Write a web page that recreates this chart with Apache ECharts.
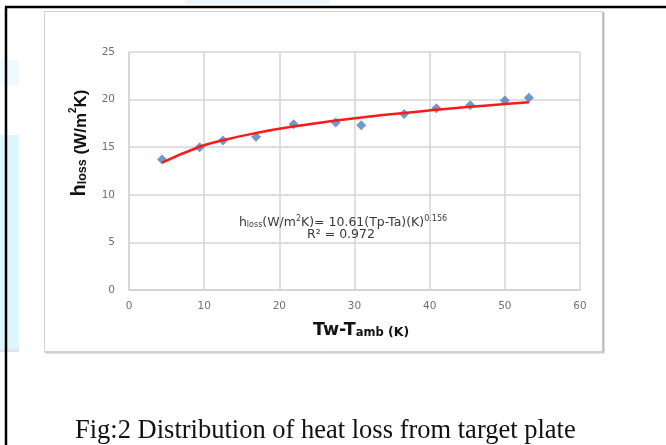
<!DOCTYPE html>
<html>
<head>
<meta charset="utf-8">
<script src="https://cdn.jsdelivr.net/npm/echarts@6/dist/echarts.min.js"></script>
<style>
  html, body { margin: 0; padding: 0; background: #fff; }
  #chart { width: 666px; height: 445px; }
</style>
</head>
<body>
<div id="chart"></div>
<script>
// Temperature difference Tw - Tamb (K) and measured heat-loss coefficient (W/m²K)
const deltaT = [4.4, 9.4, 12.5, 16.9, 21.9, 27.5, 30.9, 36.6, 40.9, 45.4, 50.0, 53.2];
const hLoss  = [13.7, 15.0, 15.7, 16.1, 17.4, 17.6, 17.3, 18.5, 19.1, 19.4, 19.9, 20.2];

// Power-law fit as given in the annotation: h = 10.61 * (Tp - Ta)^0.156
const FIT_A = 10.61;
const FIT_B = 0.156;
const FIT_R2 = '0.972';

// Axis ticks
const xTicks = [0, 10, 20, 30, 40, 50, 60];
const yTicks = [0, 5, 10, 15, 20, 25];

const caption = 'Fig:2 Distribution of heat loss from target plate';

const points = deltaT.map((x, i) => [x, hLoss[i]]);
const fitLine = deltaT.map(x => [x, FIT_A * Math.pow(x, FIT_B)]);

const chart = echarts.init(document.getElementById('chart'), null, { renderer: 'canvas' });

const tickFont = { fontFamily: 'DejaVu Sans', fontSize: 10.5, color: '#707070' };
const gridColor = '#d4d4d4';

chart.setOption({
  animation: false,
  backgroundColor: '#ffffff',
  grid: { left: 129, top: 52, right: 86, bottom: 155, containLabel: false },
  xAxis: {
    type: 'value',
    min: xTicks[0], max: xTicks[xTicks.length - 1], interval: 10,
    axisLine: { show: true, lineStyle: { color: gridColor, width: 1.5 } },
    axisTick: { show: false },
    splitLine: { show: true, lineStyle: { color: gridColor, width: 1.5 } },
    axisLabel: Object.assign({ margin: 11 }, tickFont)
  },
  yAxis: {
    type: 'value',
    min: yTicks[0], max: yTicks[yTicks.length - 1], interval: 5,
    axisLine: { show: true, lineStyle: { color: gridColor, width: 1.5 } },
    axisTick: { show: false },
    splitLine: { show: true, lineStyle: { color: gridColor, width: 1.5 } },
    axisLabel: Object.assign({ margin: 14 }, tickFont)
  },
  series: [
    {
      name: 'measured',
      type: 'scatter',
      data: points,
      symbol: 'diamond',
      symbolSize: [10, 10],
      itemStyle: { color: '#4a7fc0' },
      z: 3
    },
    {
      name: 'fit',
      type: 'line',
      data: fitLine,
      smooth: true,
      showSymbol: false,
      lineStyle: { color: '#ff1a1a', width: 2.5 },
      z: 4
    }
  ],
  graphic: [
    // page decorations behind the chart panel
    { type: 'rect', z: -10, shape: { x: 0, y: 135, width: 19, height: 216 }, style: { fill: '#ddf5fc' } },
    { type: 'rect', z: -10, shape: { x: 0, y: 60, width: 19, height: 25 }, style: { fill: '#eefafd' } },
    { type: 'rect', z: -10, shape: { x: 0, y: 349, width: 19, height: 3 }, style: { fill: '#e4e4ec' } },
    { type: 'rect', z: -10, shape: { x: 185, y: 0, width: 145, height: 4 }, style: { fill: '#eaf6fd' } },
    // black page frame (top and left)
    { type: 'line', z: 10, shape: { x1: 5, y1: 7, x2: 666, y2: 7 }, style: { stroke: '#000', lineWidth: 2.5 } },
    { type: 'line', z: 10, shape: { x1: 6, y1: 7, x2: 6, y2: 445 }, style: { stroke: '#000', lineWidth: 2.5 } },
    // chart panel border with slight shadow
    { type: 'rect', z: -5, shape: { x: 44.5, y: 11.5, width: 558, height: 340 }, style: { fill: 'none', stroke: '#d2d2d2', lineWidth: 1 } },
    { type: 'line', z: -5, shape: { x1: 603.5, y1: 12, x2: 603.5, y2: 353 }, style: { stroke: '#bdbdbd', lineWidth: 2 } },
    { type: 'line', z: -5, shape: { x1: 45, y1: 352.5, x2: 604, y2: 352.5 }, style: { stroke: '#cfcfcf', lineWidth: 2 } },
    // y-axis title
    {
      type: 'text', z: 10, x: 79, y: 143, rotation: Math.PI / 2,
      style: {
        text: '{h|h}{s|loss}{t| (W/m}{p|2}{t|K)}',
        align: 'center', verticalAlign: 'middle',
        rich: {
          h: { fontFamily: 'Liberation Sans', fontWeight: 'bold', fontSize: 20, fill: '#111', verticalAlign: 'bottom', lineHeight: 21 },
          s: { fontFamily: 'Liberation Sans', fontWeight: 'bold', fontSize: 12.5, fill: '#111', verticalAlign: 'bottom', lineHeight: 16, padding: [7, 0, 0, 0] },
          t: { fontFamily: 'Liberation Sans', fontWeight: 'bold', fontSize: 17, fill: '#111', verticalAlign: 'bottom', lineHeight: 21 },
          p: { fontFamily: 'Liberation Sans', fontWeight: 'bold', fontSize: 10, fill: '#111', verticalAlign: 'top', lineHeight: 21 }
        }
      }
    },
    // x-axis title
    {
      type: 'text', z: 10, x: 361, y: 330,
      style: {
        text: '{t|Tw-T}{s|amb}{k| (K)}',
        align: 'center', verticalAlign: 'middle',
        rich: {
          t: { fontFamily: 'DejaVu Sans', fontWeight: 'bold', fontSize: 17.5, fill: '#111', verticalAlign: 'bottom', lineHeight: 19 },
          s: { fontFamily: 'DejaVu Sans', fontWeight: 'bold', fontSize: 11.5, fill: '#111', verticalAlign: 'bottom', lineHeight: 13, padding: [5, 0, 0, 0] },
          k: { fontFamily: 'DejaVu Sans', fontWeight: 'bold', fontSize: 12.5, fill: '#111', verticalAlign: 'bottom', lineHeight: 19 }
        }
      }
    },
    // fit annotation
    {
      type: 'text', z: 10, x: 343, y: 222,
      style: {
        text: '{n|h}{s|loss}{n|(W/m}{p|2}{n|K)= ' + FIT_A.toFixed(2) + '(Tp-Ta)(K)}{p|' + FIT_B + '}',
        align: 'center', verticalAlign: 'middle',
        rich: {
          n: { fontFamily: 'DejaVu Sans', fontSize: 12.5, fill: '#3a3a3a', verticalAlign: 'bottom', lineHeight: 14 },
          s: { fontFamily: 'DejaVu Sans', fontSize: 8, fill: '#3a3a3a', verticalAlign: 'bottom', lineHeight: 10, padding: [3, 0, 0, 0] },
          p: { fontFamily: 'DejaVu Sans', fontSize: 8, fill: '#3a3a3a', verticalAlign: 'top', lineHeight: 14 }
        }
      }
    },
    {
      type: 'text', z: 10, x: 341, y: 235,
      style: {
        text: 'R² = ' + FIT_R2,
        align: 'center', verticalAlign: 'middle',
        fontFamily: 'DejaVu Sans', fontSize: 12.5, fill: '#3a3a3a'
      }
    },
    // figure caption
    {
      type: 'text', z: 10, x: 75, y: 431,
      style: {
        text: caption,
        align: 'left', verticalAlign: 'middle',
        fontFamily: 'Liberation Serif', fontSize: 26.5, fill: '#111'
      }
    }
  ]
});
</script>
</body>
</html>
